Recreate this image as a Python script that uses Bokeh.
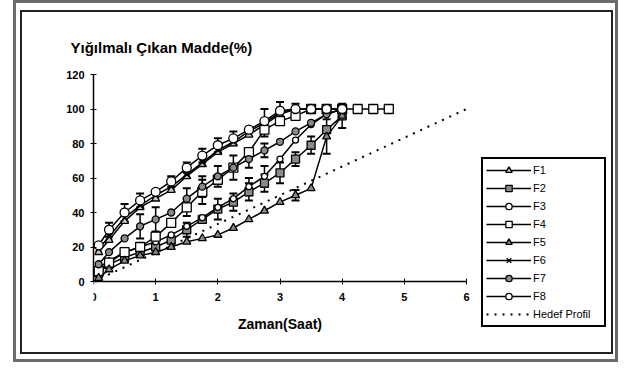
from bokeh.plotting import figure
from bokeh.models import (Legend, LegendItem, Whisker, TeeHead, ColumnDataSource,
                          FixedTicker, Range1d, Label)
from bokeh.embed import file_html
from bokeh.resources import INLINE

# ---- data ----
times = [0.083, 0.25, 0.5, 0.75, 1, 1.25, 1.5, 1.75, 2, 2.25, 2.5, 2.75, 3, 3.25, 3.5, 3.75, 4]
times_f4 = times + [4.25, 4.5, 4.75]

f1 = [17, 24, 35, 43, 48, 53, 61, 68, 75, 80, 85, 91, 97, 100, 100]
f2 = [5, 10, 14, 17, 20, 24, 30, 36, 42, 46, 52, 57, 63, 71, 79, 88, 96]
f3 = [8, 12, 17, 20, 23, 27, 32, 37, 43, 48, 55, 61, 71, 82, 91, 97, 100]
f4 = [6, 11, 17, 20, 26, 34, 43, 52, 59, 66, 75, 88, 93, 96, 100, 100, 100, 100, 100, 100]
f5 = [2, 7, 12, 15, 17, 20, 23, 25, 27, 31, 36, 41, 46, 50, 54, 84, 96]
f6 = [19, 26, 37, 44, 50, 55, 62, 69, 76, 81, 87, 92, 98, 100]
f7 = [10, 17, 25, 32, 36, 40, 48, 55, 61, 66, 71, 76, 81, 87, 92, 97, 100]
f8 = [21, 30, 40, 47, 52, 58, 66, 73, 79, 83, 88, 93, 99, 100, 100, 100, 100]

err_f2 = [0, 0, 0, 0, 0, 0, 4, 0, 6, 5, 5, 5, 6, 4, 5, 0, 0]
err_f3 = [0, 0, 0, 0, 0, 0, 0, 0, 0, 0, 5, 6, 0, 0, 0, 0, 0]
err_f4 = [0, 0, 0, 0, 0, 0, 5, 7, 0, 0, 0, 4, 0, 0, 0, 0, 0, 0, 0, 0]
err_f5 = [0, 0, 0, 0, 0, 0, 0, 0, 0, 0, 0, 0, 0, 3, 0, 10, 7]
err_f7 = [0, 0, 0, 7, 7, 0, 6, 6, 6, 7, 5, 4, 0, 0, 0, 0, 0]
err_f8 = [0, 4, 5, 4, 0, 3, 3, 4, 4, 4, 0, 7, 5, 3, 0, 0, 0]

target_t = [0, 6]
target_v = [0, 100]

x_ticks = [0, 1, 2, 3, 4, 5, 6]
y_ticks = [0, 20, 40, 60, 80, 100, 120]
x_axis_span = (0, 6)
y_axis_span = (0, 120)

FONT = "Liberation Sans"
GREY = "#8a8a8a"

# ---- layout geometry (pixels) ----
W, H = 618, 362
AX_LEFT, AX_RIGHT = 93, 466      # pixel of x=0 and x=6
AX_TOP, AX_ZERO = 74, 281        # pixel of y=120 and y=0
FRAME_RIGHT, FRAME_BOTTOM = 612, 332
px_x = (AX_RIGHT - AX_LEFT) / (x_axis_span[1] - x_axis_span[0])
px_y = (AX_ZERO - AX_TOP) / (y_axis_span[1] - y_axis_span[0])
x_end = x_axis_span[0] + (FRAME_RIGHT - AX_LEFT) / px_x
y_start = y_axis_span[0] - (FRAME_BOTTOM - AX_ZERO) / px_y

p = figure(width=W, height=H, x_range=Range1d(x_axis_span[0], x_end),
           y_range=Range1d(y_start, y_axis_span[1]),
           output_backend="svg", toolbar_location=None,
           min_border_left=AX_LEFT, min_border_right=W - FRAME_RIGHT,
           min_border_top=AX_TOP, min_border_bottom=H - FRAME_BOTTOM)
p.outline_line_color = None
p.xgrid.visible = False
p.ygrid.visible = False
p.background_fill_alpha = 0
p.border_fill_alpha = 0

p.title.text = "Yığılmalı Çıkan Madde(%)"
p.title.text_font = FONT
p.title.text_font_size = "15px"
p.title.text_font_style = "bold"
p.title.text_color = "black"
p.title.align = "left"
p.title.offset = -23
p.title.standoff = 37

for ax in (p.xaxis[0], p.yaxis[0]):
    ax.axis_line_color = "black"
    ax.axis_line_width = 1.5
    ax.major_tick_line_color = "black"
    ax.major_tick_in = 3
    ax.major_tick_out = 3
    ax.minor_tick_line_color = None
    ax.major_label_text_font = FONT
    ax.major_label_text_font_size = "11px"
    ax.major_label_text_font_style = "bold"
    ax.major_label_text_color = "black"
p.xaxis.ticker = FixedTicker(ticks=x_ticks)
p.yaxis.ticker = FixedTicker(ticks=y_ticks)
p.xaxis.bounds = x_axis_span
p.yaxis.bounds = y_axis_span
p.xaxis.fixed_location = 0
p.xaxis.major_label_standoff = 8
p.yaxis.major_label_standoff = 6

# axis title (placed under the x axis, inside the plotting region)
p.add_layout(Label(x=(x_axis_span[0] + x_axis_span[1]) / 2, y=-(323 - AX_ZERO) / px_y,
                   text="Zaman(Saat)", text_font=FONT, text_font_size="14px",
                   text_font_style="bold", text_color="black",
                   text_align="center", text_baseline="middle"))

series = [
    ("F1", times[:len(f1)], f1, None, "triangle", 8, "#c8c8c8"),
    ("F2", times, f2, err_f2, "square", 8, GREY),
    ("F3", times, f3, err_f3, "circle", 6, "white"),
    ("F4", times_f4, f4, err_f4, "square", 9, "white"),
    ("F5", times, f5, err_f5, "triangle", 8, GREY),
    ("F6", times[:len(f6)], f6, None, "x", 9, "white"),
    ("F7", times, f7, err_f7, "circle", 7, GREY),
    ("F8", times, f8, err_f8, "circle", 9, "white"),
]

items = []
for name, tt, vv, ee, marker, size, fill in series:
    if ee is not None:
        bx = [t for t, e in zip(tt, ee) if e > 0]
        lo = [v - e for v, e in zip(vv, ee) if e > 0]
        hi = [v + e for v, e in zip(vv, ee) if e > 0]
        wsrc = ColumnDataSource(dict(base=bx, lower=lo, upper=hi))
        p.add_layout(Whisker(source=wsrc, base="base", lower="lower", upper="upper",
                             line_color="black", line_width=1.5,
                             upper_head=TeeHead(size=8, line_width=2, line_color="black"),
                             lower_head=TeeHead(size=8, line_width=2, line_color="black")))
    src = ColumnDataSource(dict(t=tt, v=vv))
    lr = p.line("t", "v", source=src, line_color="black", line_width=1.5)
    sr = p.scatter("t", "v", source=src, marker=marker, size=size, fill_color=fill,
                   line_color="black", line_width=1.3)
    items.append(LegendItem(label=name, renderers=[lr, sr]))

tr = p.line(target_t, target_v, line_color="black", line_width=2, line_dash="2 6")
items.append(LegendItem(label="Hedef Profil", renderers=[tr]))

legend = Legend(items=items, location=(481 - AX_LEFT, FRAME_BOTTOM - 327),
                orientation="vertical",
                label_text_font=FONT, label_text_font_size="11px", label_text_color="black",
                glyph_width=45, glyph_height=16, label_height=16, label_width=68,
                label_standoff=2, spacing=2, padding=3, margin=0,
                border_line_color="black", border_line_width=2, border_line_alpha=1,
                background_fill_color="white", background_fill_alpha=1)
p.add_layout(legend, "center")

# double frame around the whole chart drawn as CSS background lines of the plot element
grad = ["linear-gradient(#6a6a6a,#6a6a6a)"] * 4 + ["linear-gradient(#222,#222)"] * 4
sizes = ["3px 362px", "3px 362px", "605px 3px", "605px 3px",
         "2px 344px", "2px 344px", "593px 2px", "593px 2px"]
poss = ["13px 0px", "615px 0px", "13px 0px", "13px 359px",
        "20px 10px", "611px 10px", "20px 10px", "20px 352px"]
p.styles = {
    "background-color": "white",
    "background-image": ", ".join(grad),
    "background-size": ", ".join(sizes),
    "background-position": ", ".join(poss),
    "background-repeat": "no-repeat",
}

open("out.html", "w").write(file_html(p, INLINE))
